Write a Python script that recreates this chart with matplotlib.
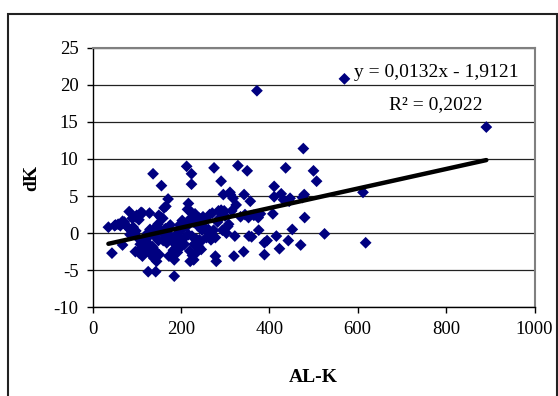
import matplotlib.pyplot as plt
from matplotlib.patches import Rectangle

# AL-K (x) and dK (y)
al_k = [372, 570, 891, 477, 612, 618, 525, 500, 507, 479, 480, 471, 452, 443, 437, 447,
        427, 411, 411, 408, 416, 423, 389, 389, 376, 375, 357, 350, 329, 343, 353, 354,
        342, 322, 320, 325, 311, 318, 306, 303, 294, 291, 275, 296, 291, 287, 271, 278,
        274, 278, 280, 266, 254, 242, 250, 240, 242, 234, 229, 221, 225, 217, 225, 217,
        224, 224, 213, 219, 203, 197, 193, 201, 189, 185, 185, 173, 169, 177, 171, 166,
        162, 159, 156, 137, 145, 153, 159, 149, 151, 145, 143, 137, 139, 133, 126, 129,
        113, 111, 113, 106, 97, 95, 89, 85, 81, 83, 97, 68, 68, 63, 52, 44, 36, 121, 125,
        129,
        50, 58, 72, 78, 90, 100, 105, 110, 92, 98, 102, 108, 103, 115, 118, 122, 127, 130,
        135, 140, 142, 148, 150, 155, 160, 163, 165, 168, 172, 176, 180, 183, 187, 190,
        192, 195, 198, 200, 205, 208, 210, 212, 215, 218, 220, 222, 226, 228, 230, 232,
        235, 238, 244, 246, 248, 252, 258, 262, 265, 268, 283, 285, 298, 300, 308, 312,
        315, 335, 345, 360, 365, 380, 395, 432, 445, 475]
dk = [19.2, 20.8, 14.3, 11.4, 5.5, -1.3, -0.1, 8.4, 7.0, 5.2, 2.1, -1.6, 0.5, -1.0, 8.8, 4.7,
      5.3, 6.3, 4.9, 2.6, -0.4, -2.1, -1.3, -2.9, 0.4, 2.1, 4.3, 8.4, 9.1, 5.2, 2.1, -0.4,
      -2.5, -0.4, -3.1, 3.8, 5.5, 4.7, 0.9, 0.0, 0.4, 7.0, 8.8, 5.2, 3.1, 2.0, 2.7, -0.6,
      0.4, -3.1, -3.8, -0.2, 0.7, 2.0, 2.2, -1.8, -0.9, -2.7, -3.6, -3.8, -0.4, -0.2, 2.7, 4.0,
      6.6, 8.0, 9.0, 3.1, 1.7, 1.1, -0.9, -1.8, -2.0, -3.6, -5.8, -3.1, -0.9, -0.4, 4.6, 3.6,
      3.4, 2.0, 6.4, 8.0, 0.9, 0.4, 0.0, -1.0, -2.9, -3.8, -5.2, -2.0, -3.4, 0.2, -5.2, 2.7,
      2.7, -2.2, -3.1, -2.7, -2.5, 0.0, 0.4, -0.2, 0.7, 2.9, 2.2, 1.6, -1.6, 1.0, 1.1, -2.7, 0.8, -0.9, 0.0,
      -2.7,
      1.0, 1.2, 1.5, 0.9, 2.0, 2.4, 1.8, 2.8, 0.8, 0.3, -0.6, -1.5, -2.4, -2.0, -2.5, -1.2, -0.4, 0.5,
      -1.8, -2.3, -0.5, 1.2, 2.4, 2.1, -1.0, -0.2, 0.6, -1.3, -0.6, 1.1, -1.0, -2.3, -1.5, -0.2,
      -2.6, -1.2, 0.3, -0.8, 1.4, -1.5, -0.5, 0.9, 3.2, 1.2, -2.4, 2.0, -3.0, 1.5, -1.5, 2.6,
      -0.8, 1.0, -1.2, -2.2, 0.4, 1.8, -0.6, 0.5, 2.5, -0.9, 1.5, 3.0, 3.0, 2.3, 1.2, 5.2,
      3.0, 2.2, 2.5, -0.5, 2.4, 2.6, -1.0, 4.5, 4.3, 4.8]

# linear trendline shown on the chart
slope = 0.0132
intercept = -1.9121
r_squared = 0.2022

x_ticks = [0, 200, 400, 600, 800, 1000]
y_ticks = [-10, -5, 0, 5, 10, 15, 20, 25]

plt.rcParams['font.family'] = ['Liberation Serif', 'DejaVu Serif']
plt.rcParams['axes.unicode_minus'] = False

fig = plt.figure(figsize=(5.58, 3.96), dpi=100)
ax = fig.add_axes([92.5 / 558, 1 - 307.3 / 396, 442 / 558, 259.6 / 396])

# Outer chart border
fig.patches.append(Rectangle((8 / 558, -0.05), 549 / 558, 1 - 14 / 396 + 0.05,
                             transform=fig.transFigure, fill=False, lw=1.5,
                             edgecolor='#222222', clip_on=False))

ax.set_xlim(0, 1000)
ax.set_ylim(-10, 25)
ax.set_xticks(x_ticks)
ax.set_yticks(y_ticks)
ax.yaxis.grid(True, color='#222222', lw=0.9)
ax.set_axisbelow(True)

ax.scatter(al_k, dk, marker='D', s=36, color='#000080', edgecolors='none', zorder=3)

# Trendline
x0, x1 = min(al_k), max(al_k)
ax.plot([x0, x1], [slope * x0 + intercept, slope * x1 + intercept],
        color='black', lw=3.2, solid_capstyle='round', zorder=4)

eq = f'y = {slope:.4f}x - {abs(intercept):.4f}'.replace('.', ',')
r2 = f'R² = {r_squared:.4f}'.replace('.', ',')
ax.text(777, 21.6, eq, ha='center', va='center', fontsize=14, zorder=5)
ax.text(777, 17.3, r2, ha='center', va='center', fontsize=14, zorder=5)

for side in ['top', 'right']:
    ax.spines[side].set_color('#808080')
    ax.spines[side].set_linewidth(1.5)
for side in ['left', 'bottom']:
    ax.spines[side].set_color('black')
    ax.spines[side].set_linewidth(1.0)

ax.tick_params(direction='out', length=4, width=1, labelsize=13.5, pad=6)

ax.set_xlabel('AL-K', fontsize=14, fontweight='bold')
ax.set_ylabel('dK', fontsize=14, fontweight='bold')
ax.xaxis.set_label_coords(0.5, -(378 - 307.3) / 259.6)
ax.xaxis.label.set_va('center')
ax.yaxis.set_label_coords((32 - 92.5) / 442, 0.5)
ax.yaxis.label.set_va('center')

fig.savefig('out.png', dpi=100)
